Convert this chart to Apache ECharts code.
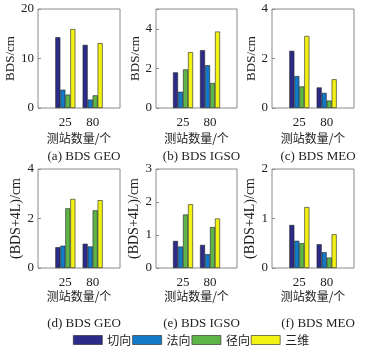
<!DOCTYPE html>
<html>
<head>
<meta charset="utf-8">
<script src="https://cdn.jsdelivr.net/npm/echarts@6/dist/echarts.min.js"></script>
<style>
  html, body { margin: 0; padding: 0; background: #fff; }
  #main { width: 366px; height: 352px; }
</style>
</head>
<body>
<div id="main"></div>
<script>
// 横轴：测站数量（两端留空位，类似 MATLAB 的 xlim [0,3]）
var stations = ['', '25', '80', ''];
var seriesNames = ['切向', '法向', '径向', '三维'];
var colors = ['#2c2c88', '#1479c6', '#5db447', '#f2f215'];

// 每个子图：[切向, 法向, 径向, 三维]，每项 [25个, 80个]
var bdsGeo   = [[14.3, 12.75], [3.7, 1.7], [2.7, 2.55], [15.95, 13.1]];
var bdsIgso  = [[1.8, 2.92], [0.82, 2.16], [1.95, 1.26], [2.82, 3.86]];
var bdsMeo   = [[2.31, 0.83], [1.29, 0.61], [0.87, 0.30], [2.91, 1.16]];
var b4lGeo   = [[0.84, 0.98], [0.90, 0.87], [2.41, 2.33], [2.79, 2.74]];
var b4lIgso  = [[0.82, 0.70], [0.65, 0.42], [1.62, 1.24], [1.93, 1.50]];
var b4lMeo   = [[0.87, 0.48], [0.55, 0.32], [0.50, 0.21], [1.23, 0.68]];

var panelTitles = ['(a) BDS GEO', '(b) BDS IGSO', '(c) BDS MEO', '(d) BDS GEO', '(e) BDS IGSO', '(f) BDS MEO'];
var yNames = ['BDS/cm', 'BDS/cm', 'BDS/cm', '(BDS+4L)/cm', '(BDS+4L)/cm', '(BDS+4L)/cm'];
var yMax = [20, 5, 4, 4, 3, 2];
var yStep = [10, 2, 2, 2, 1, 1];
var panelData = [bdsGeo, bdsIgso, bdsMeo, b4lGeo, b4lIgso, b4lMeo];

// 布局（像素）
var lefts = [38, 156, 272];
var widths = [82, 81, 82];
var tops = [9, 169];
var plotH = 99;
var nameGaps = [19, 12.5, 13.5, 15, 12, 14];
var yNameSize = [13, 14];
var titleTops = [145, 312];
var xNameGaps = [24, 22];

var serif = 'Liberation Serif';
var cjk = 'Noto Sans CJK SC';

var grids = [], xAxes = [], yAxes = [], series = [], titles = [];
for (var p = 0; p < 6; p++) {
  var col = p % 3, row = Math.floor(p / 3);
  grids.push({
    left: lefts[col], top: tops[row], width: widths[col], height: plotH,
    show: true, borderColor: '#8a8a8a', borderWidth: 1, backgroundColor: '#fff'
  });
  xAxes.push({
    gridIndex: p, type: 'category', data: stations, boundaryGap: false,
    axisLine: { show: false }, axisTick: { show: false },
    axisLabel: { fontFamily: serif, fontSize: 13, color: '#222', margin: 8, interval: 0 },
    name: '测站数量/个', nameLocation: 'middle', nameGap: xNameGaps[row],
    nameTextStyle: { fontFamily: cjk, fontSize: 12, color: '#222' }
  });
  (function (step) {
    yAxes.push({
      gridIndex: p, type: 'value', min: 0, max: yMax[p], interval: step,
      axisLine: { show: false },
      axisTick: { show: true, inside: true, length: 3, lineStyle: { color: '#8a8a8a' } },
      splitLine: { show: false },
      axisLabel: {
        fontFamily: serif, fontSize: 13, color: '#222', margin: 4,
        formatter: function (v) { return v % step === 0 ? String(v) : ''; }
      },
      name: yNames[p], nameLocation: 'middle', nameRotate: 90, nameGap: nameGaps[p],
      nameTextStyle: { fontFamily: serif, fontSize: yNameSize[row], color: '#222' }
    });
  })(yStep[p]);
  for (var s = 0; s < 4; s++) {
    var vals = panelData[p][s];
    series.push({
      name: seriesNames[s], type: 'bar', xAxisIndex: p, yAxisIndex: p,
      data: ['-', vals[0], vals[1], '-'],
      barWidth: 5, barGap: '0%',
      itemStyle: { color: colors[s], borderColor: '#222', borderWidth: 0.6 },
      silent: true
    });
  }
  titles.push({
    text: panelTitles[p], left: lefts[col] + widths[col] / 2, top: titleTops[row],
    textAlign: 'center',
    textStyle: { fontFamily: serif, fontSize: 13, fontWeight: 'normal', color: '#222' }
  });
}

var chart = echarts.init(document.getElementById('main'), null, { renderer: 'canvas' });
chart.setOption({
  animation: false,
  title: titles,
  grid: grids,
  xAxis: xAxes,
  yAxis: yAxes,
  legend: {
    data: seriesNames, left: 68, top: 329,
    itemWidth: 29, itemHeight: 9, itemGap: 1,
    icon: 'rect',
    itemStyle: { borderColor: '#222', borderWidth: 0.6 },
    textStyle: { fontFamily: cjk, fontSize: 12, color: '#222' }
  },
  series: series
});
</script>
</body>
</html>
